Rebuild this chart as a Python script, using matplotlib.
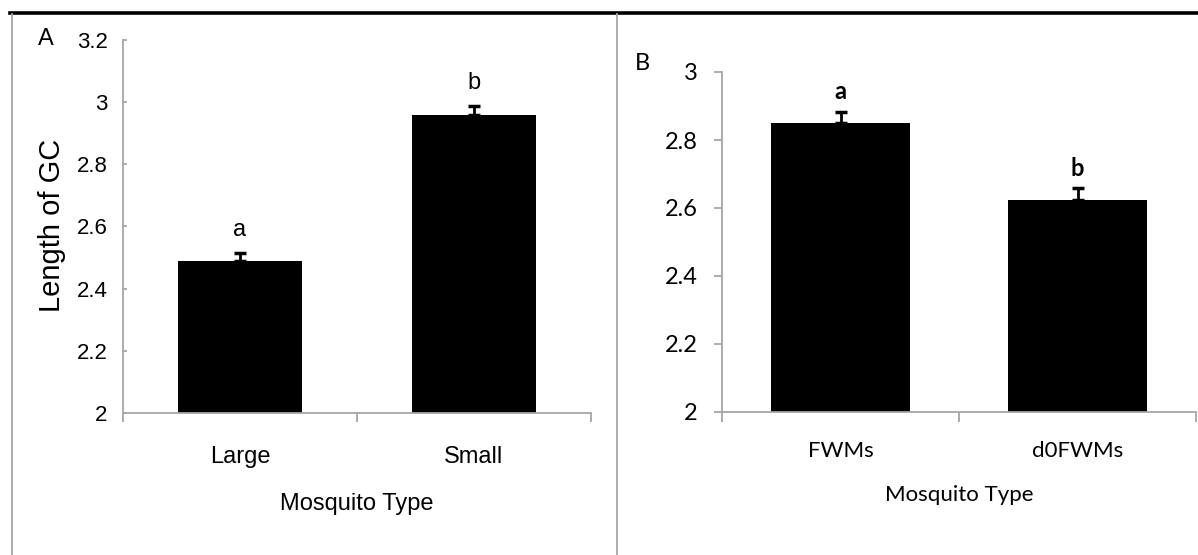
import matplotlib
matplotlib.use("Agg")
import matplotlib.pyplot as plt
from matplotlib import font_manager
from matplotlib.lines import Line2D

# ---- data ----
cats_a = ["Large", "Small"]
vals_a = [2.49, 2.96]
errs_a = [0.025, 0.028]
sig_a = ["a", "b"]

cats_b = ["FWMs", "d0FWMs"]
vals_b = [2.85, 2.625]
errs_b = [0.032, 0.033]
sig_b = ["a", "b"]

yticks_a = [2, 2.2, 2.4, 2.6, 2.8, 3, 3.2]
yticks_b = [2, 2.2, 2.4, 2.6, 2.8, 3]

names = {f.name for f in font_manager.fontManager.ttflist}
fa = ["Liberation Sans", "DejaVu Sans"]
fa = [f for f in fa if f in names] or ["DejaVu Sans"]
fb = ["Lato", "Open Sans", "DejaVu Sans"]
fb = [f for f in fb if f in names] or ["DejaVu Sans"]

W, H = 1198, 555
fig = plt.figure(figsize=(W / 100, H / 100), dpi=100)

def px(l, r, top, bot):
    return [l / W, 1 - bot / H, (r - l) / W, (bot - top) / H]

grey = "#a6a6a6"

# frame lines
fig.add_artist(Line2D([10 / W, 1], [1 - 13 / H, 1 - 13 / H], color="black", lw=2.6))
fig.add_artist(Line2D([12 / W, 12 / W], [0, 1 - 14 / H], color=grey, lw=1.3))
fig.add_artist(Line2D([617 / W, 617 / W], [0, 1 - 14 / H], color=grey, lw=1.3))

# ---- panel A ----
axa = fig.add_axes(px(123, 591, 40, 413))
xa = list(range(len(cats_a)))
axa.bar(xa, vals_a, width=0.534, color="black")
axa.errorbar(xa, vals_a, yerr=[[0] * len(errs_a), errs_a], fmt="none",
             ecolor="black", elinewidth=2, capsize=4, capthick=2.5)
axa.set_xlim(-0.5, 1.5)
axa.set_ylim(2, 3.2)
axa.set_yticks(yticks_a)
axa.set_yticklabels([f"{t:g}" for t in yticks_a], family=fa, fontsize=16)
axa.set_xticks([-0.5, 0.5, 1.5])
axa.set_xticklabels([])
axa.set_xticks(xa, minor=True)
axa.set_xticklabels(cats_a, minor=True, family=fa, fontsize=17)
axa.tick_params(axis="x", which="major", direction="out", length=6.5, color=grey, width=1.3)
axa.tick_params(axis="x", which="minor", length=0, pad=23.5)
axa.tick_params(axis="y", direction="in", length=3, color=grey, width=1.3, pad=11)
for s in ["top", "right"]:
    axa.spines[s].set_visible(False)
for s in ["left", "bottom"]:
    axa.spines[s].set_color(grey)
    axa.spines[s].set_linewidth(1.3)
axa.set_xlabel("Mosquito Type", family=fa, fontsize=17, labelpad=18)
for x, v, e, s in zip(xa, vals_a, errs_a, sig_a):
    axa.annotate(s, (x, v + e), xytext=(0, 16.5), textcoords="offset points",
                 ha="center", va="center", family=fa, fontsize=17)
fig.text(52 / W, 1 - 225 / H, "Length of GC", rotation=90, ha="center", va="center",
         family=fa, fontsize=21)
fig.text(46 / W, 1 - 39 / H, "A", ha="center", va="center", family=fa, fontsize=17)

# ---- panel B ----
axb = fig.add_axes(px(722, 1196, 72, 412))
xb = list(range(len(cats_b)))
axb.bar(xb, vals_b, width=0.59, color="black")
axb.errorbar(xb, vals_b, yerr=[[0] * len(errs_b), errs_b], fmt="none",
             ecolor="black", elinewidth=2, capsize=4, capthick=2.5)
axb.set_xlim(-0.5, 1.5)
axb.set_ylim(2, 3)
axb.set_yticks(yticks_b)
axb.set_yticklabels([f"{t:g}" for t in yticks_b], family=fb, fontsize=17)
axb.set_xticks([-0.5, 0.5, 1.5])
axb.set_xticklabels([])
axb.set_xticks(xb, minor=True)
axb.set_xticklabels(cats_b, minor=True, family=fb, fontsize=16)
axb.tick_params(axis="x", which="major", direction="out", length=7, color=grey, width=1.3)
axb.tick_params(axis="x", which="minor", length=0, pad=21)
axb.tick_params(axis="y", direction="out", length=6, color=grey, width=1.3, pad=11.5)
for s in ["top", "right"]:
    axb.spines[s].set_visible(False)
for s in ["left", "bottom"]:
    axb.spines[s].set_color(grey)
    axb.spines[s].set_linewidth(1.3)
axb.set_xlabel("Mosquito Type", family=fb, fontsize=16, labelpad=17)
for x, v, e, s in zip(xb, vals_b, errs_b, sig_b):
    axb.annotate(s, (x, v + e), xytext=(0, 14.5), textcoords="offset points",
                 ha="center", va="center", family=fb, fontsize=17, fontweight="bold")
fig.text(642 / W, 1 - 64 / H, "B", ha="center", va="center", family=fb, fontsize=17)

fig.savefig("out.png", dpi=100)
